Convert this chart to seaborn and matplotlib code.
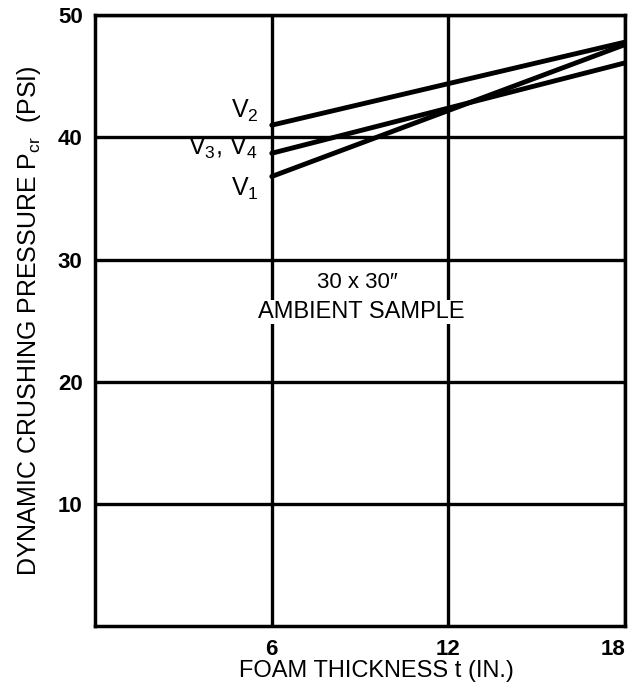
import matplotlib
import matplotlib.pyplot as plt
import numpy as np
import pandas as pd
import seaborn as sns

matplotlib.use('Agg')

# foam thickness (in.) and dynamic crushing pressure (psi)
thickness = [6, 18]
v2 = [41.0, 47.8]
v3_v4 = [38.7, 46.1]
v1 = [36.8, 47.6]

x_ticks = [6, 12, 18]
y_ticks = [10, 20, 30, 40, 50]

data = pd.DataFrame({
    'thickness': thickness * 3,
    'pressure': v2 + v3_v4 + v1,
    'curve': ['V2'] * 2 + ['V3V4'] * 2 + ['V1'] * 2,
})

sns.set_style("white")
plt.rcParams['font.family'] = ['Liberation Sans', 'DejaVu Sans']
plt.rcParams['text.color'] = 'black'
plt.rcParams['axes.labelcolor'] = 'black'
plt.rcParams['xtick.color'] = 'black'
plt.rcParams['ytick.color'] = 'black'
plt.rcParams['mathtext.fontset'] = 'custom'
plt.rcParams['mathtext.rm'] = 'Liberation Sans'
plt.rcParams['mathtext.it'] = 'Liberation Sans'

fig = plt.figure(figsize=(6.34, 6.91), dpi=100)
ax = fig.add_axes([0.150, 0.094, 0.836, 0.884])

sns.lineplot(data=data, x='thickness', y='pressure', units='curve', estimator=None,
             color='black', linewidth=3.5, ax=ax)

ax.set_xlim(0, 18)
ax.set_ylim(0, 50)
ax.set_xticks(x_ticks)
ax.set_yticks(y_ticks)
ax.tick_params(length=0, labelsize=16, pad=9)
for lab in ax.get_xticklabels() + ax.get_yticklabels():
    lab.set_fontweight('bold')
ax.get_xticklabels()[-1].set_horizontalalignment('right')
ax.grid(True, color='black', linewidth=2.4)
for s in ax.spines.values():
    s.set_color('black')
    s.set_linewidth(2.5)

ax.set_xlabel('FOAM THICKNESS t (IN.)', fontsize=17, labelpad=1)
ax.xaxis.set_label_coords(0.53, -0.055)
ax.set_ylabel('DYNAMIC CRUSHING PRESSURE P$_{\\rm cr}$  (PSI)', fontsize=18, labelpad=11)

ax.text(5.1, 42.2, 'V$_2$', fontsize=18, ha='center', va='center')
ax.text(4.35, 39.1, 'V$_{3}$, V$_4$', fontsize=18, ha='center', va='center')
ax.text(5.1, 35.8, 'V$_1$', fontsize=18, ha='center', va='center')
ax.text(8.9, 28.1, '30 x 30\u2033', fontsize=16, ha='center', va='center',
        bbox=dict(facecolor='white', edgecolor='none', pad=1))
ax.text(9.05, 25.7, 'AMBIENT SAMPLE', fontsize=17, ha='center', va='center',
        bbox=dict(facecolor='white', edgecolor='none', pad=1))

fig.savefig('out.png', dpi=100, facecolor='white')
